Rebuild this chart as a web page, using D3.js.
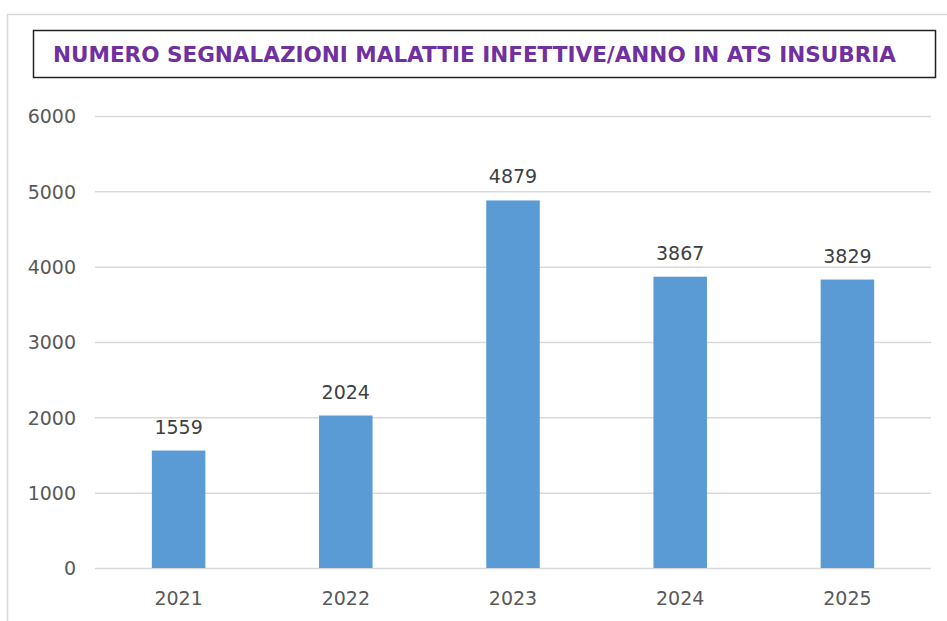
<!DOCTYPE html>
<html>
<head>
<meta charset="utf-8">
<script src="https://cdn.jsdelivr.net/npm/d3@7"></script>
<style>
  body { margin: 0; background: #fff; }
  svg text { font-family: "DejaVu Sans", Verdana, sans-serif; }
</style>
</head>
<body>
<div id="chart"></div>
<script>
// data
var years = ["2021", "2022", "2023", "2024", "2025"];
var counts = [1559, 2024, 4879, 3867, 3829];
var yTicks = [0, 1000, 2000, 3000, 4000, 5000, 6000];
var title = "NUMERO SEGNALAZIONI MALATTIE INFETTIVE/ANNO IN ATS INSUBRIA";

var width = 947, height = 621;
var svg = d3.select("#chart").append("svg")
    .attr("width", width).attr("height", height);

// outer chart frame
svg.append("rect").attr("x", 7.5).attr("y", 14.5)
    .attr("width", 960).attr("height", 640)
    .attr("fill", "#fff").attr("stroke", "#d9d9d9").attr("stroke-width", 1.5);

// title box
svg.append("rect").attr("x", 33.5).attr("y", 30.5)
    .attr("width", 902).attr("height", 47)
    .attr("fill", "#fff").attr("stroke", "#222").attr("stroke-width", 1.5);
svg.append("text").attr("x", 53).attr("y", 62)
    .attr("textLength", 843).attr("lengthAdjust", "spacingAndGlyphs")
    .attr("font-size", "21px").attr("font-weight", "bold")
    .attr("fill", "#7030a0")
    .text(title);

var x = d3.scaleBand().domain(years).range([95, 931]).paddingInner(0.68).paddingOuter(0.34);
var y = d3.scaleLinear().domain([0, 6000]).range([568, 116]);

// gridlines
svg.append("g").selectAll("line").data(yTicks).enter().append("line")
    .attr("x1", 95).attr("x2", 931)
    .attr("y1", function(d){ return y(d) + 0.5; })
    .attr("y2", function(d){ return y(d) + 0.5; })
    .attr("stroke", "#d9d9d9").attr("stroke-width", 1.5);

// y axis labels
var yAxis = d3.axisLeft(y).tickValues(yTicks).tickFormat(d3.format("d")).tickSize(0).tickPadding(0);
var gy = svg.append("g").attr("transform", "translate(76,0)").call(yAxis);
gy.select(".domain").remove();
gy.selectAll("text").attr("font-size", "19px").attr("fill", "#595959")
    .attr("font-family", "DejaVu Sans, Verdana, sans-serif").attr("dy", "0.36em");

// bars
svg.append("g").selectAll("rect").data(counts).enter().append("rect")
    .attr("x", function(d, i){ return x(years[i]); })
    .attr("y", function(d){ return y(d); })
    .attr("width", x.bandwidth())
    .attr("height", function(d){ return y(0) - y(d); })
    .attr("fill", "#5b9bd5");

// value labels
svg.append("g").selectAll("text").data(counts).enter().append("text")
    .attr("x", function(d, i){ return x(years[i]) + x.bandwidth() / 2; })
    .attr("y", function(d){ return y(d) - 17; })
    .attr("text-anchor", "middle")
    .attr("font-size", "19px").attr("fill", "#404040")
    .text(function(d){ return d; });

// x axis labels
var xAxis = d3.axisBottom(x).tickSize(0).tickPadding(0);
var gx = svg.append("g").attr("transform", "translate(0,605)").call(xAxis);
gx.select(".domain").remove();
gx.selectAll("text").attr("font-size", "19px").attr("fill", "#595959")
    .attr("font-family", "DejaVu Sans, Verdana, sans-serif").attr("dy", "0");
</script>
</body>
</html>
